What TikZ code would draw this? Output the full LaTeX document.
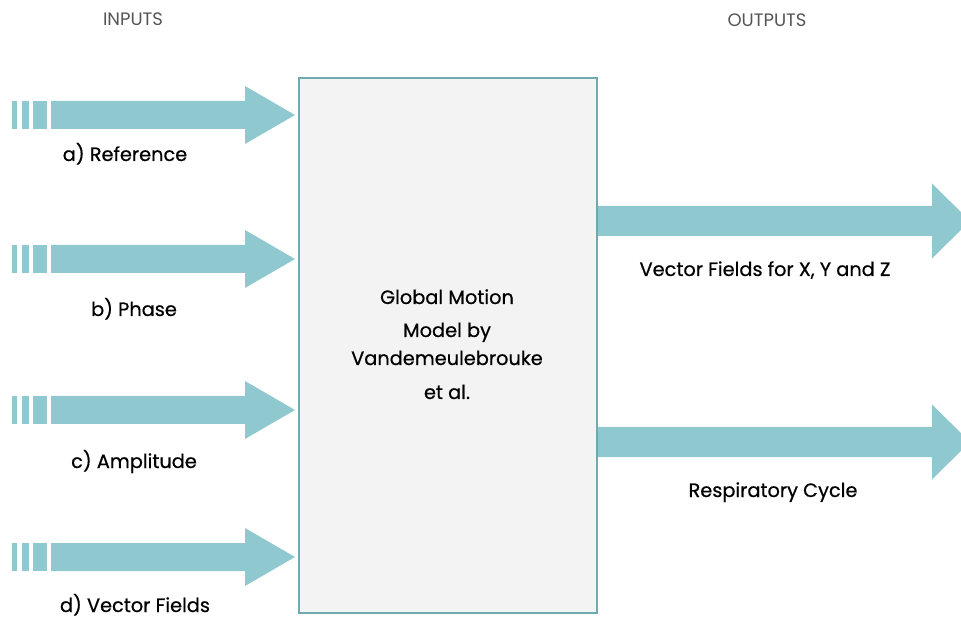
\documentclass[tikz,border=0pt]{standalone}
\usepackage{fontspec}
\setmainfont{Poppins}
\newfontfamily\lblfont[FakeBold=0.6]{Poppins}
\definecolor{arrowc}{HTML}{8FC9CF}
\definecolor{boxline}{HTML}{6FA9B1}
\definecolor{boxfill}{HTML}{F3F3F3}
\definecolor{headc}{HTML}{555555}
\newcommand\myinarrow[1]{%
  \fill[arrowc] (12,#1-14) rectangle (17,#1+14);
  \fill[arrowc] (22,#1-14) rectangle (29,#1+14);
  \fill[arrowc] (33,#1-14) rectangle (47,#1+14);
  \fill[arrowc] (51,#1-14) -- (245,#1-14) -- (245,#1-29) -- (295,#1) -- (245,#1+29) -- (245,#1+14) -- (51,#1+14) -- cycle;}
\newcommand\myoutarrow[1]{%
  \fill[arrowc] (597,#1-15) -- (932,#1-15) -- (932,#1-37.5) -- (970,#1) -- (932,#1+37.5) -- (932,#1+15) -- (597,#1+15) -- cycle;}
\begin{document}
\begin{tikzpicture}[x=0.75pt,y=-0.75pt,
  lbl/.style={font=\lblfont\fontsize{14.5pt}{17pt}\selectfont, text=black, inner sep=0pt, anchor=base},
  head/.style={font=\fontsize{13.5pt}{16pt}\selectfont, text=headc, inner sep=0pt, anchor=base},
  mbox/.style={draw=boxline, line width=1.8pt, fill=boxfill}]
\useasboundingbox (0,0) rectangle (961,620);
\begin{scope}
\clip (0,0) rectangle (961,620);
\myinarrow{115}
\myinarrow{259}
\myinarrow{410}
\myinarrow{557}
\myoutarrow{221}
\myoutarrow{442}
\end{scope}
\node[mbox, minimum width=298*0.75pt, minimum height=535*0.75pt, anchor=north west] (box) at (298,77) {};
\node[head] (inh) at (133,26) {INPUTS};
\node[head] (outh) at (767,27) {OUTPUTS};
\node[lbl] (la) at (125,161) {a) Reference};
\node[lbl] (lb) at (134,316) {b) Phase};
\node[lbl] (lc) at (134,468) {c) Amplitude};
\node[lbl] (ld) at (135,612) {d) Vector Fields};
\node[lbl] (lo1) at (765,276) {Vector Fields for X, Y and Z};
\node[lbl] (lo2) at (773,497) {Respiratory Cycle};
\node[lbl] (t1) at (447,304) {Global Motion};
\node[lbl] (t2) at (447,337) {Model by};
\node[lbl] (t3) at (447,365) {Vandemeulebrouke};
\node[lbl] (t4) at (447,399) {et al.};
\end{tikzpicture}
\end{document}
